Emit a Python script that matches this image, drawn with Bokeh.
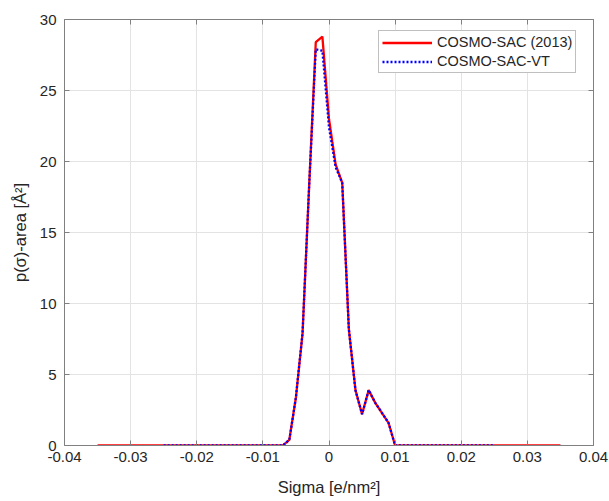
import numpy as np
from bokeh.plotting import figure
from bokeh.models import (ColumnDataSource, FixedTicker, LinearAxis, Legend, LegendItem,
                          CustomJSTickFormatter, Range1d)
from bokeh.embed import file_html
from bokeh.resources import INLINE

# ---- data ----
sigma_2013 = [round(-0.035 + 0.001 * i, 3) for i in range(71)]
core_sigma = [-0.007, -0.006, -0.005, -0.004, -0.003, -0.002, -0.001, 0.0,
              0.001, 0.002, 0.003, 0.004, 0.005, 0.006, 0.007, 0.008, 0.009, 0.010]
core_2013 = [0.0, 0.4, 3.4, 7.9, 18.3, 28.4, 28.8, 23.0,
             19.8, 18.5, 8.2, 3.9, 2.2, 3.9, 3.0, 2.3, 1.6, 0.0]
core_vt = [0.0, 0.4, 3.4, 7.9, 18.3, 27.9, 27.8, 22.4,
           19.6, 18.5, 8.2, 3.9, 2.2, 3.9, 3.0, 2.3, 1.6, 0.0]
sigma_vt = [round(-0.025 + 0.001 * i, 3) for i in range(51)]

def fill(sig, core_s, core_v):
    lookup = {round(s, 3): v for s, v in zip(core_s, core_v)}
    return [lookup.get(round(s, 3), 0.0) for s in sig]

p_2013 = fill(sigma_2013, core_sigma, core_2013)
p_vt = fill(sigma_vt, core_sigma, core_vt)

x_ticks = [-0.04, -0.03, -0.02, -0.01, 0.0, 0.01, 0.02, 0.03, 0.04]
x_tick_labels = ["-0.04", "-0.03", "-0.02", "-0.01", "0", "0.01", "0.02", "0.03", "0.04"]
y_ticks = [0, 5, 10, 15, 20, 25, 30]

FONT = "Liberation Sans"
TXT = "#262626"
AX = "#808080"

p = figure(width=609, height=501, output_backend="svg", toolbar_location=None,
           x_range=Range1d(-0.04, 0.04), y_range=Range1d(0, 30),
           min_border_left=64, min_border_right=16, min_border_top=19, min_border_bottom=56,
           background_fill_color="white", border_fill_color="white")
p.outline_line_color = None

xa = p.xaxis[0]
ya = p.yaxis[0]
xa.ticker = FixedTicker(ticks=x_ticks)
xa.major_label_overrides = {t: l for t, l in zip(x_ticks, x_tick_labels)}
ya.ticker = FixedTicker(ticks=y_ticks)
for ax in (xa, ya):
    ax.major_tick_in = 5
    ax.major_tick_out = 0
    ax.minor_tick_line_color = None
    ax.axis_line_color = AX
    ax.major_tick_line_color = AX
    ax.major_label_text_font = FONT
    ax.major_label_text_font_size = "15px"
    ax.major_label_text_color = TXT
    ax.axis_label_text_font = FONT
    ax.axis_label_text_font_size = "16.5px"
    ax.axis_label_text_font_style = "normal"
    ax.axis_label_text_color = TXT
xa.axis_label = "Sigma [e/nm²]"
ya.axis_label = "p(σ)-area [Å²]"
xa.major_label_standoff = 6
ya.major_label_standoff = 8
xa.axis_label_standoff = 13
ya.axis_label_standoff = 8

empty = CustomJSTickFormatter(code="return ''")
for loc, tk in (("above", x_ticks), ("right", y_ticks)):
    a = LinearAxis(ticker=FixedTicker(ticks=tk), formatter=empty,
                   major_tick_in=5, major_tick_out=0, minor_tick_line_color=None,
                   axis_line_color=AX, major_tick_line_color=AX,
                   major_label_standoff=0, major_label_text_font_size="1px")
    p.add_layout(a, loc)

p.xgrid.ticker = FixedTicker(ticks=x_ticks)
p.ygrid.ticker = FixedTicker(ticks=y_ticks)
p.grid.grid_line_color = "#e3e3e3"
p.grid.grid_line_width = 1

src1 = ColumnDataSource(dict(x=sigma_2013, y=p_2013))
src2 = ColumnDataSource(dict(x=sigma_vt, y=p_vt))
r1 = p.line("x", "y", source=src1, line_color="#ff0000", line_width=2.3)
r2 = p.line("x", "y", source=src2, line_color="#0000ff", line_width=2.3, line_dash="2 2")

legend = Legend(items=[LegendItem(label="COSMO-SAC (2013)", renderers=[r1]),
                       LegendItem(label="COSMO-SAC-VT", renderers=[r2])],
                location=(314, 372), label_text_font=FONT, label_text_font_size="14.5px",
                label_text_color=TXT, glyph_width=50, glyph_height=15, label_height=15,
                spacing=3, padding=3, margin=0, label_standoff=5,
                border_line_color=AX, border_line_width=1, background_fill_color="white",
                background_fill_alpha=1.0)
p.add_layout(legend, "center")

open("out.html", "w").write(file_html(p, INLINE))
